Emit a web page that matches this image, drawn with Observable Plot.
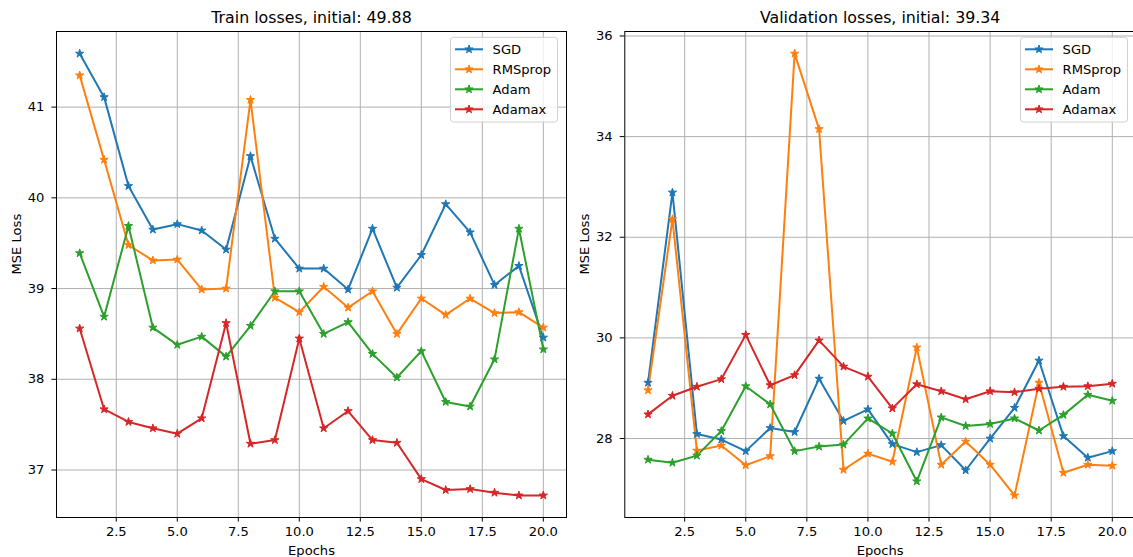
<!DOCTYPE html>
<html>
<head>
<meta charset="utf-8">
<script src="https://cdn.jsdelivr.net/npm/d3@7"></script>
<script src="https://cdn.jsdelivr.net/npm/@observablehq/plot@0.6"></script>
<style>
  html, body { margin: 0; padding: 0; background: #fff; overflow: hidden; }
  #wrap { position: relative; width: 1133px; height: 557px; overflow: hidden; font-family: "DejaVu Sans", sans-serif; }
  #wrap > svg, #wrap > div { position: absolute; top: 0; }
</style>
</head>
<body>
<div id="wrap"></div>
<script>
// ---- data ----
const epochs = [1, 2, 3, 4, 5, 6, 7, 8, 9, 10, 11, 12, 13, 14, 15, 16, 17, 18, 19, 20];
const series = ["SGD", "RMSprop", "Adam", "Adamax"];
const colors = ["#1f77b4", "#ff7f0e", "#2ca02c", "#d62728"];

const trainSGD     = [41.59, 41.11, 40.13, 39.65, 39.71, 39.64, 39.43, 40.46, 39.55, 39.22, 39.22, 38.99, 39.66, 39.01, 39.37, 39.93, 39.62, 39.04, 39.25, 38.46];
const trainRMSprop = [41.35, 40.42, 39.48, 39.31, 39.32, 38.99, 39.00, 41.08, 38.90, 38.74, 39.02, 38.79, 38.97, 38.50, 38.89, 38.71, 38.89, 38.73, 38.74, 38.57];
const trainAdam    = [39.39, 38.69, 39.69, 38.57, 38.38, 38.47, 38.25, 38.59, 38.97, 38.97, 38.50, 38.63, 38.28, 38.02, 38.31, 37.75, 37.70, 38.22, 39.66, 38.33];
const trainAdamax  = [38.56, 37.67, 37.53, 37.46, 37.40, 37.57, 38.62, 37.29, 37.33, 38.45, 37.46, 37.65, 37.33, 37.30, 36.90, 36.78, 36.79, 36.75, 36.72, 36.72];

const valSGD     = [29.11, 32.89, 28.09, 27.98, 27.75, 28.21, 28.13, 29.19, 28.35, 28.58, 27.89, 27.73, 27.87, 27.37, 28.00, 28.61, 29.55, 28.05, 27.62, 27.75];
const valRMSprop = [28.96, 32.36, 27.76, 27.86, 27.47, 27.65, 35.65, 34.15, 27.38, 27.70, 27.54, 29.81, 27.48, 27.94, 27.48, 26.87, 29.11, 27.32, 27.48, 27.46];
const valAdam    = [27.58, 27.52, 27.66, 28.15, 29.04, 28.68, 27.75, 27.84, 27.88, 28.40, 28.10, 27.15, 28.42, 28.25, 28.29, 28.40, 28.16, 28.47, 28.87, 28.75];
const valAdamax  = [28.48, 28.85, 29.03, 29.18, 30.06, 29.06, 29.26, 29.95, 29.43, 29.23, 28.60, 29.08, 28.94, 28.78, 28.94, 28.92, 28.99, 29.03, 29.04, 29.09];

const xTicks = [2.5, 5.0, 7.5, 10.0, 12.5, 15.0, 17.5, 20.0];
const trainYTicks = [37, 38, 39, 40, 41];
const valYTicks = [28, 30, 32, 34, 36];

const trainTitle = "Train losses, initial: 49.88";
const valTitle = "Validation losses, initial: 39.34";
const xLabel = "Epochs";
const yLabel = "MSE Loss";

// ---- drawing ----
const wrap = document.getElementById("wrap");
const FONT = "DejaVu Sans";

function rows(values) {
  return series.flatMap((s, i) => epochs.map((e, j) => ({epoch: e, loss: values[i][j], opt: s})));
}

function pad(ext, f) {
  const d = (ext[1] - ext[0]) * f;
  return [ext[0] - d, ext[1] + d];
}

function panel({values, title, yTicks, left, width, marginLeft, marginRight, legendX}) {
  const data = rows(values);
  const yDomain = pad(d3.extent(data, d => d.loss), 0.05);
  const xDomain = pad(d3.extent(epochs), 0.05);
  const chart = Plot.plot({
    width, height: 557,
    marginLeft, marginRight, marginTop: 31, marginBottom: 40,
    style: {fontFamily: FONT, fontSize: "13.1px", color: "#000", background: "transparent", overflow: "visible"},
    x: {domain: xDomain, ticks: xTicks, tickFormat: d3.format(".1f"), tickSize: 4.6, tickPadding: 4.2, label: null},
    y: {domain: yDomain, ticks: yTicks, tickFormat: d3.format("d"), tickSize: 4.6, tickPadding: 7.5, label: null},
    color: {domain: series, range: colors},
    marks: [
      Plot.ruleX(xTicks, {stroke: "#b0b0b0", strokeWidth: 1}),
      Plot.ruleY(yTicks, {stroke: "#b0b0b0", strokeWidth: 1}),
      Plot.line(data, {x: "epoch", y: "loss", z: "opt", stroke: "opt", strokeWidth: 2}),
      Plot.dot(data, {x: "epoch", y: "loss", fill: "opt", stroke: "opt", strokeWidth: 1, symbol: "star", r: 2.6}),
      Plot.frame({stroke: "#000", strokeWidth: 1}),
      Plot.text([title], {text: d => d, frameAnchor: "top", lineAnchor: "middle", dy: -14, fontSize: 15.8, fill: "#000"}),
      Plot.text([xLabel], {text: d => d, frameAnchor: "bottom", lineAnchor: "middle", dy: 33, fill: "#000"}),
      Plot.text([yLabel], {text: d => d, frameAnchor: "left", lineAnchor: "middle", rotate: -90, dx: -40, fill: "#000"})
    ]
  });
  chart.style.left = left + "px";
  wrap.appendChild(chart);

  // legend
  const lg = d3.select(wrap).append("svg")
    .attr("width", 110).attr("height", 88)
    .style("left", legendX + "px").style("top", "36px")
    .style("font-family", FONT).style("font-size", "13.1px");
  lg.append("rect").attr("x", 0.5).attr("y", 1.3).attr("width", 107).attr("height", 84.7)
    .attr("rx", 3).attr("fill", "#fff").attr("fill-opacity", 0.8).attr("stroke", "#d0d0d0").attr("stroke-width", 1);
  const star = d3.symbol(d3.symbolStar, 2.6 * 2.6 * Math.PI)();
  series.forEach((s, i) => {
    const y = 13.3 + i * 20;
    lg.append("line").attr("x1", 5).attr("x2", 33).attr("y1", y).attr("y2", y)
      .attr("stroke", colors[i]).attr("stroke-width", 2);
    lg.append("path").attr("d", star).attr("transform", `translate(19,${y})`)
      .attr("fill", colors[i]).attr("stroke", colors[i]).attr("stroke-width", 1);
    lg.append("text").attr("x", 42.6).attr("y", y).attr("dy", "0.36em").attr("fill", "#000").text(s);
  });
}

panel({values: [trainSGD, trainRMSprop, trainAdam, trainAdamax], title: trainTitle, yTicks: trainYTicks,
  left: 0, width: 580, marginLeft: 56, marginRight: 14, legendX: 450});
panel({values: [valSGD, valRMSprop, valAdam, valAdamax], title: valTitle, yTicks: valYTicks,
  left: 570, width: 580, marginLeft: 54.3, marginRight: 15, legendX: 1020});
</script>
</body>
</html>
